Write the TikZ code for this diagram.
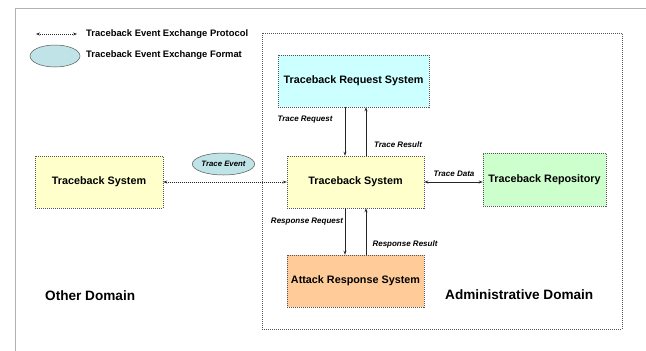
\documentclass[tikz,border=0pt]{standalone}
\usepackage{fontspec}
\setmainfont{Liberation Sans}
\usetikzlibrary{arrows.meta,shapes.geometric}
\definecolor{cyanbox}{HTML}{CCFFFF}
\definecolor{yellowbox}{HTML}{FFFFCC}
\definecolor{greenbox}{HTML}{CCFFCC}
\definecolor{orangebox}{HTML}{FFCC99}
\definecolor{ellfill}{HTML}{BFE3E6}
\definecolor{edge}{HTML}{555555}
\begin{document}
\begin{tikzpicture}[x=1pt,y=-1pt,
  sysbox/.style={draw=edge, dash pattern=on 1pt off 1pt, line width=0.6pt, inner sep=0pt, font=\bfseries\fontsize{10.8}{12}\selectfont},
  lbl/.style={font=\bfseries\itshape\fontsize{8}{9}\selectfont, inner sep=1pt},
  solidarr/.style={-{Stealth[length=4pt,width=3pt]}, line width=0.8pt, black!85},
  dotarr/.style={{Stealth[length=4pt,width=3pt]}-{Stealth[length=4pt,width=3pt]}, dash pattern=on 1pt off 1pt, line width=0.7pt, black!85},
  legtext/.style={font=\bfseries\fontsize{9.4}{10}\selectfont, anchor=west, inner sep=0pt},
  domainlabel/.style={font=\bfseries\fontsize{13.6}{15}\selectfont, anchor=west, inner sep=0pt}]
\useasboundingbox (0,0) rectangle (646,351);
\fill[white] (0,0) rectangle (646,351);
% outer frame
\draw[gray!60, line width=0.8pt] (15,351) -- (15,8) -- (646,8);
% administrative domain
\draw[edge, dash pattern=on 1pt off 1pt, line width=0.6pt] (262,33) rectangle (622,329);
% legend
\coordinate (la) at (36,34);
\coordinate (lb) at (77,34);
\draw[dotarr] (la) -- (lb);
\node[legtext] (lt1) at (86,34) {Traceback Event Exchange Protocol};
\node[draw=edge, fill=ellfill, ellipse, minimum width=50pt, minimum height=22pt, inner sep=0pt, line width=0.5pt] (le) at (55,56) {};
\node[legtext] (lt2) at (86,55) {Traceback Event Exchange Format};
% boxes
\node[sysbox, fill=cyanbox, minimum width=151pt, minimum height=52pt] (trs) at (353.5,81) {Traceback Request System};
\node[sysbox, fill=yellowbox, minimum width=137pt, minimum height=52pt] (ts) at (355.5,182) {Traceback System};
\node[sysbox, fill=orangebox, minimum width=137pt, minimum height=52pt] (ars) at (355.5,281) {Attack Response System};
\node[sysbox, fill=greenbox, minimum width=123pt, minimum height=53pt] (rep) at (544.5,179.5) {Traceback Repository};
\node[sysbox, fill=yellowbox, minimum width=128pt, minimum height=52pt] (ots) at (99,182) {Traceback System};
% trace event ellipse
\node[draw=edge, fill=ellfill, ellipse, minimum width=61pt, minimum height=22pt, inner sep=0pt, line width=0.5pt, font=\bfseries\itshape\fontsize{7.8}{9}\selectfont] (te) at (223.5,164) {Trace Event};
% arrows
\draw[solidarr] (trs.south -| 345,0) -- (ts.north -| 345,0);
\draw[solidarr] (ts.north -| 366,0) -- (trs.south -| 366,0);
\draw[solidarr] (ts.south -| 345,0) -- (ars.north -| 345,0);
\draw[solidarr] (ars.north -| 366,0) -- (ts.south -| 366,0);
\draw[{Stealth[length=4pt,width=3pt]}-{Stealth[length=4pt,width=3pt]}, line width=0.8pt, black!85] (ts.east |- 0,182) -- (rep.west |- 0,182);
\draw[dotarr] (ots.east) -- (ts.west);
% labels
\node[lbl] (l1) at (305,120) {Trace Request};
\node[lbl] (l2) at (398,145) {Trace Result};
\node[lbl] (l3) at (454,174) {Trace Data};
\node[lbl] (l4) at (307,222) {Response Request};
\node[lbl] (l5) at (405,244) {Response Result};
% domain labels
\node[domainlabel] (od) at (45,296) {Other Domain};
\node[domainlabel] (ad) at (445,295) {Administrative Domain};
\end{tikzpicture}
\end{document}
